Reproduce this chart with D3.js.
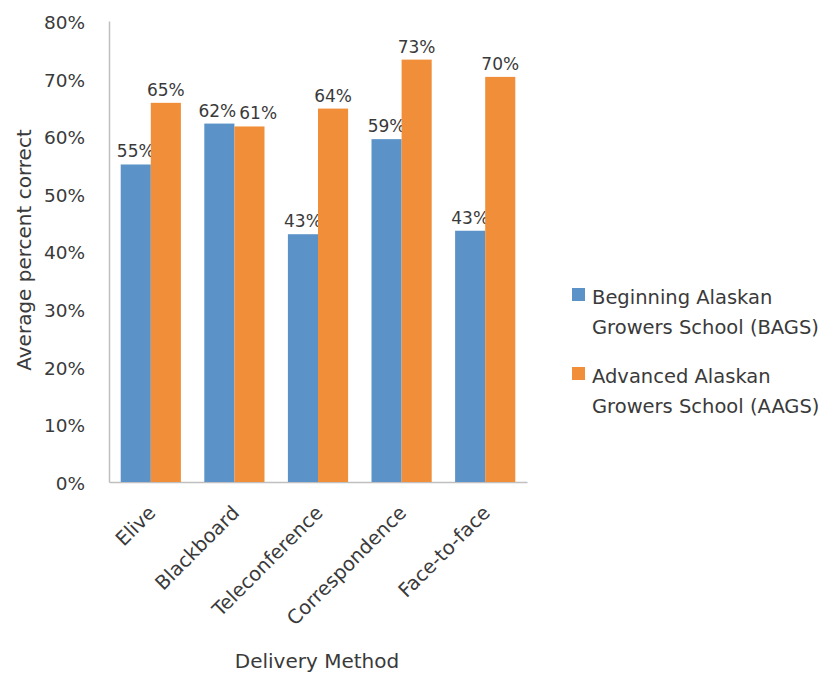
<!DOCTYPE html>
<html><head><meta charset="utf-8">
<script src="https://cdn.jsdelivr.net/npm/d3@7"></script>
<style>body{margin:0;background:#fff}svg{display:block}text{font-family:"DejaVu Sans",sans-serif;fill:#3a3a3a}</style>
</head><body>
<svg id="c" width="827" height="673"></svg>
<script>
const categories = ["Elive","Blackboard","Teleconference","Correspondence","Face-to-face"];
const seriesNames = ["Beginning Alaskan Growers School (BAGS)","Advanced Alaskan Growers School (AAGS)"];
const bags = [0.551, 0.622, 0.430, 0.595, 0.436];
const aags = [0.658, 0.617, 0.648, 0.733, 0.703];
const yTicks = [0,0.1,0.2,0.3,0.4,0.5,0.6,0.7,0.8];
const colors = ["#5b93c8","#f18e3a"];
const legendLines = [["Beginning Alaskan","Growers School (BAGS)"],["Advanced Alaskan","Growers School (AAGS)"]];

(function(){
const svg = d3.select("#c");
const pL=109, pR=527, pT=21, pB=482;
const x = d3.scaleBand().domain(categories).range([pL,pR]).paddingInner(0.28).paddingOuter(0.14);
const x1 = d3.scaleBand().domain([0,1]).range([0,x.bandwidth()]);
const y = d3.scaleLinear().domain([0,0.8]).range([pB,pT]);
const fmt = v => Math.floor(v*100+1e-9) + "%";

// y axis
const ya = svg.append("g").attr("transform",`translate(${pL},0)`)
  .call(d3.axisLeft(y).tickValues(yTicks).tickFormat(d3.format(".0%")).tickSize(0).tickPadding(24));
ya.select(".domain").attr("stroke","#bfbfbf").attr("stroke-width",1.5);
ya.selectAll("text").style("font-size","18.5px").style("font-family","DejaVu Sans").attr("fill","#3a3a3a").attr("dy","0.4em");

// x axis
const xa = svg.append("g").attr("transform",`translate(0,${pB})`)
  .call(d3.axisBottom(x).tickSize(0).tickFormat(""));
xa.select(".domain").attr("stroke","#bfbfbf").attr("stroke-width",1.5);

const data = [bags, aags];
const groups = svg.append("g");
const labelSel = [];
data.forEach((vals,si)=>{
  groups.selectAll(null).data(vals).enter().append("rect")
    .attr("x",(d,i)=>x(categories[i])+x1(si))
    .attr("y",d=>y(d))
    .attr("width",x1.bandwidth())
    .attr("height",d=>y(0)-y(d))
    .attr("fill",colors[si]);
  labelSel[si] = groups.selectAll(null).data(vals).enter().append("text")
    .attr("x",(d,i)=>x(categories[i])+x1(si)+x1.bandwidth()/2)
    .attr("y",d=>y(d)-7)
    .attr("text-anchor","middle")
    .style("font-size","17px")
    .text(fmt);
});
// avoid overlap of paired labels at similar height
const n0 = labelSel[0].nodes(), n1 = labelSel[1].nodes();
categories.forEach((c,i)=>{
  const a = n0[i].getBBox(), b = n1[i].getBBox();
  const vOver = Math.min(a.y+a.height, b.y+b.height) - Math.max(a.y, b.y);
  const hOver = a.x + a.width + 3 - b.x;
  if (vOver > 0 && hOver > 0) {
    d3.select(n0[i]).attr("dx", -2);
    d3.select(n1[i]).attr("dx", hOver - 2);
  }
});

// category labels
svg.append("g").selectAll("text").data(categories).enter().append("text")
  .attr("transform",d=>`translate(${x(d)+x.bandwidth()/2+6},${pB+32}) rotate(-45)`)
  .attr("text-anchor","end")
  .style("font-size","19.5px")
  .text(d=>d);

svg.append("text").attr("x",317).attr("y",668).attr("text-anchor","middle")
  .style("font-size","20px").text("Delivery Method");
svg.append("text").attr("transform","translate(31,250) rotate(-90)").attr("text-anchor","middle")
  .style("font-size","20px").text("Average percent correct");

// legend
const lg = svg.append("g");
legendLines.forEach((lines,i)=>{
  const y0 = 288 + i*79;
  lg.append("rect").attr("x",572).attr("y",y0).attr("width",13).attr("height",13).attr("fill",colors[i]);
  lines.forEach((t,j)=>{
    lg.append("text").attr("x",592).attr("y",y0+16+j*30).style("font-size","19.5px").text(t);
  });
});
})();
</script>
</body></html>
